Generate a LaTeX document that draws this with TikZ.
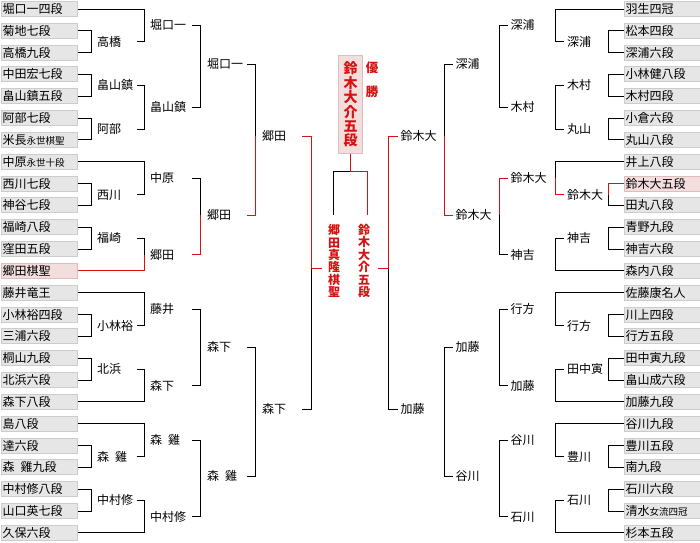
\documentclass[tikz,border=0pt]{standalone}
\usepackage{fontspec}
\setmainfont{Noto Sans CJK JP}
\usepackage{tikz}
\usetikzlibrary{positioning,calc}
\definecolor{winred}{HTML}{D81010}
\definecolor{cellgray}{HTML}{E6E6E6}
\definecolor{cellrule}{HTML}{CCCCCC}
\definecolor{pinkcell}{HTML}{F3DDDD}
\definecolor{pinkrule}{HTML}{DDBDBD}
\newcommand{\smtxt}[1]{{\fontsize{9.5pt}{9.5pt}\selectfont #1}}

\begin{document}
\begin{tikzpicture}[
  x=1pt, y=-1pt,
  every node/.style={font=\fontsize{12pt}{12pt}\selectfont},
  player/.style={
    draw=cellrule, fill=cellgray, line width=1pt, anchor=west,
    minimum width=76pt, minimum height=15pt, inner xsep=1.2pt, inner ysep=0pt,
    text height=10.5pt, text depth=1.5pt, text width=73pt, align=left,
  },
  champbox/.style={player, draw=pinkrule, fill=pinkcell},
  lbl/.style={
    anchor=west, inner xsep=3pt, inner ysep=0pt,
    text height=10.5pt, text depth=1.5pt, text width=37pt, align=left,
  },
  vname/.style={
    align=center, inner sep=0pt, text=winred,
    font=\bfseries\fontsize{12pt}{12.4pt}\selectfont,
  },
  bline/.style={line width=1pt},
  won/.style={bline, draw=winred},
]
  \useasboundingbox (0,0) rectangle (700,542);

  \coordinate (lv1) at (91.5,0);
  \coordinate (lv2) at (144.2,0);
  \coordinate (lv3) at (200.6,0);
  \coordinate (lv4) at (255.5,0);
  \coordinate (lv5) at (311.6,0);
  \coordinate (rv1) at (608.5,0);
  \coordinate (rv2) at (555.8,0);
  \coordinate (rv3) at (499.4,0);
  \coordinate (rv4) at (444.5,0);
  \coordinate (rv5) at (388.4,0);

  \foreach \i/\t in {1/堀口一四段, 2/菊地七段, 3/高橋九段, 4/中田宏七段, 5/畠山鎮五段,
      6/阿部七段, 7/米長\smtxt{永世棋聖}, 8/中原\smtxt{永世十段}, 9/西川七段, 10/神谷七段,
      11/福崎八段, 12/窪田五段, 14/藤井竜王, 15/小林裕四段, 16/三浦六段, 17/桐山九段,
      18/北浜六段, 19/森下八段, 20/島八段, 21/達六段, 22/森\enspace 雞九段, 23/中村修八段,
      24/山口英七段, 25/久保六段}
    \node[player] (L\i) at (0.5,{9+21.83*(\i-1)}) {\t};
  \node[champbox] (L13) at (0.5,{9+21.83*12}) {郷田棋聖};

  \foreach \i/\t in {1/羽生四冠, 2/松本四段, 3/深浦六段, 4/小林健八段, 5/木村四段,
      6/小倉六段, 7/丸山八段, 8/井上八段, 10/田丸八段, 11/青野九段, 12/神吉六段,
      13/森内八段, 14/佐藤康名人, 15/川上四段, 16/行方五段, 17/田中寅九段, 18/畠山成六段,
      19/加藤九段, 20/谷川九段, 21/豊川五段, 22/南九段, 23/石川六段,
      24/清水\smtxt{女流四冠}, 25/杉本五段}
    \node[player] (R\i) at (623.5,{9+21.83*(\i-1)}) {\t};
  \node[champbox] (R9) at (623.5,{9+21.83*8}) {鈴木大五段};

  \foreach \n/\y/\t in {a1/41.75/高橋, a2/85.4/畠山鎮, a3/129.1/阿部, a4/194.6/西川,
      a5/238.2/福崎, a6/325.5/小林裕, a7/369.2/北浜, a8/456.5/森\enspace 雞, a9/500.2/中村修}
    \node[lbl] (\n) at (94,\y) {\t};
  \foreach \n/\y/\t in {b1/25.4/堀口一, b2/107.2/畠山鎮, b3/178.2/中原, b4/254.6/郷田,
      b5/309.2/藤井, b6/385.6/森下, b7/440.1/森\enspace 雞, b8/516.5/中村修}
    \node[lbl, text width=39pt] (\n) at (147,\y) {\t};
  \foreach \n/\y/\t in {c1/64/堀口一, c2/215/郷田, c3/347/森下, c4/476/森\enspace 雞}
    \node[lbl] (\n) at (204,\y) {\t};
  \foreach \n/\y/\t in {d1/136/郷田, d2/409/森下}
    \node[lbl] (\n) at (259,\y) {\t};

  \foreach \n/\y/\t in {e1/41.75/深浦, e2/85.4/木村, e3/129.1/丸山, e4/194.6/鈴木大,
      e5/238.2/神吉, e6/325.5/行方, e7/369.2/田中寅, e8/456.5/豊川, e9/500.2/石川}
    \node[lbl] (\n) at (564,\y) {\t};
  \foreach \n/\y/\t in {f1/25.4/深浦, f2/107.2/木村, f3/178.2/鈴木大, f4/254.6/神吉,
      f5/309.2/行方, f6/385.6/加藤, f7/440.1/谷川, f8/516.5/石川}
    \node[lbl] (\n) at (507.5,\y) {\t};
  \foreach \n/\y/\t in {g1/64/深浦, g2/215/鈴木大, g3/347/加藤, g4/476/谷川}
    \node[lbl] (\n) at (452.5,\y) {\t};
  \foreach \n/\y/\t in {h1/136/鈴木大, h2/409/加藤}
    \node[lbl] (\n) at (397.5,\y) {\t};

  \foreach \a/\b/\w/\v/\ca/\cb in {
      L2/L3/a1/lv1/black/black, L4/L5/a2/lv1/black/black, L6/L7/a3/lv1/black/black,
      L9/L10/a4/lv1/black/black, L11/L12/a5/lv1/black/black, L15/L16/a6/lv1/black/black,
      L17/L18/a7/lv1/black/black, L21/L22/a8/lv1/black/black, L23/L24/a9/lv1/black/black,
      L1/a1/b1/lv2/black/black, a2/a3/b2/lv2/black/black, L8/a4/b3/lv2/black/black,
      a5/L13/b4/lv2/black/winred, L14/a6/b5/lv2/black/black, a7/L19/b6/lv2/black/black,
      L20/a8/b7/lv2/black/black, a9/L25/b8/lv2/black/black,
      b1/b2/c1/lv3/black/black, b3/b4/c2/lv3/black/winred,
      b5/b6/c3/lv3/black/black, b7/b8/c4/lv3/black/black,
      c1/c2/d1/lv4/black/winred, c3/c4/d2/lv4/black/black}{
    \draw[bline, draw=\ca] (\a.east) -| (\w.center -| \v);
    \draw[bline, draw=\cb] (\b.east) -| (\w.center -| \v);
  }

  \foreach \a/\b/\w/\v/\ca/\cb in {
      R2/R3/e1/rv1/black/black, R4/R5/e2/rv1/black/black, R6/R7/e3/rv1/black/black,
      R9/R10/e4/rv1/winred/black, R11/R12/e5/rv1/black/black, R15/R16/e6/rv1/black/black,
      R17/R18/e7/rv1/black/black, R21/R22/e8/rv1/black/black, R23/R24/e9/rv1/black/black,
      R1/e1/f1/rv2/black/black, e2/e3/f2/rv2/black/black, R8/e4/f3/rv2/black/winred,
      e5/R13/f4/rv2/black/black, R14/e6/f5/rv2/black/black, e7/R19/f6/rv2/black/black,
      R20/e8/f7/rv2/black/black, e9/R25/f8/rv2/black/black,
      f1/f2/g1/rv3/black/black, f3/f4/g2/rv3/winred/black,
      f5/f6/g3/rv3/black/black, f7/f8/g4/rv3/black/black,
      g1/g2/h1/rv4/black/winred, g3/g4/h2/rv4/black/black}{
    \draw[bline, draw=\ca] (\a.west) -| (\w.center -| \v);
    \draw[bline, draw=\cb] (\b.west) -| (\w.center -| \v);
  }

  \coordinate (sfl) at (321.7,268.3);
  \coordinate (sfr) at (378.3,268.3);
  \coordinate (fl) at (333.3,215);
  \coordinate (fr) at (367.3,215);
  \coordinate (ftop) at (350.5,171.3);

  \draw[bline] (d2.east) -| (sfl -| lv5);
  \draw[won] (d1.east) -| (sfl -| lv5) -- (sfl);
  \draw[bline] (h2.west) -| (sfr -| rv5);
  \draw[won] (h1.west) -| (sfr -| rv5) -- (sfr);

  \node[vname] (fgoda) at (334,261) {郷\\田\\真\\隆\\棋\\聖};
  \node[vname] (fsuzuki) at (364,261) {鈴\\木\\大\\介\\五\\段};

  \node[vname, draw=pinkrule, fill=pinkcell, line width=1pt,
    minimum width=24pt, minimum height=98pt,
    font=\bfseries\fontsize{14pt}{14.4pt}\selectfont] (champ) at (350.5,104.5) {鈴\\木\\大\\介\\五\\段};
  \node[vname, font=\bfseries\fontsize{12.5pt}{24pt}\selectfont] (yusho) at (372,80) {優\\勝};

  \draw[bline] (fl) |- (ftop);
  \draw[won] (fr) |- (ftop) -- (champ.south);
\end{tikzpicture}
\end{document}
